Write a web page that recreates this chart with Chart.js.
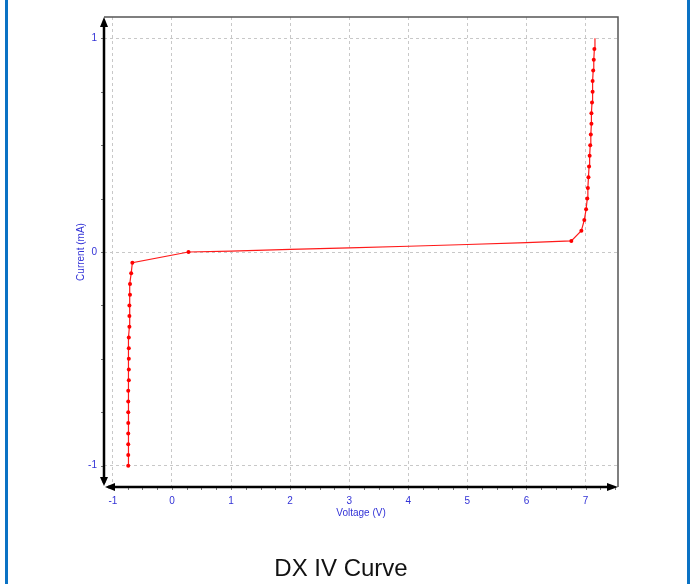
<!DOCTYPE html>
<html>
<head>
<meta charset="utf-8">
<script src="https://cdn.jsdelivr.net/npm/chart.js@4.4.0/dist/chart.umd.min.js"></script>
<style>
  body { margin: 0; background: #fff; }
  #wrap { position: relative; width: 691px; height: 584px; }
  #frame { position: absolute; left: 5px; top: 0; width: 679px; height: 584px;
           border-left: 3px solid #0a72c4; border-right: 3px solid #0a72c4; pointer-events: none; }
</style>
</head>
<body>
<div id="wrap">
  <canvas id="ivChart" width="691" height="584"></canvas>
  <div id="frame"></div>
</div>
<script>
// measured IV points (voltage in V, current in mA)
var voltage = [
  -0.74, -0.74, -0.74, -0.74, -0.74, -0.74, -0.74, -0.74, -0.73, -0.73,
  -0.73, -0.73, -0.73, -0.72, -0.72, -0.72, -0.71, -0.71, -0.69, -0.67,
  0.28, 1.0, 2.0, 3.0, 4.0, 5.0, 6.0, 6.76,
  6.93, 6.98, 7.01, 7.03, 7.04, 7.05, 7.06, 7.07, 7.08, 7.09,
  7.10, 7.10, 7.11, 7.12, 7.12, 7.13, 7.14, 7.15, 7.16
];
var current = [
  -1.00, -0.95, -0.90, -0.85, -0.80, -0.75, -0.70, -0.65, -0.60, -0.55,
  -0.50, -0.45, -0.40, -0.35, -0.30, -0.25, -0.20, -0.15, -0.10, -0.05,
  0.000, 0.004, 0.012, 0.019, 0.027, 0.035, 0.044, 0.052,
  0.10, 0.15, 0.20, 0.25, 0.30, 0.35, 0.40, 0.45, 0.50, 0.55,
  0.60, 0.65, 0.70, 0.75, 0.80, 0.85, 0.90, 0.95, 1.00
];
var xTicks = [-1, 0, 1, 2, 3, 4, 5, 6, 7];
var yTicks = [-1, 0, 1];

var points = voltage.map(function(v, i) { return {x: v, y: current[i]}; });
var noMarker = [21, 22, 23, 24, 25, 26, 46];

var labelBlue = '#3232d6';
var font10 = { family: 'Liberation Sans, Arial, sans-serif', size: 10 };

// axis lines with arrows, frame and minor ticks
var axesPlugin = {
  id: 'axesPlugin',
  beforeDatasetsDraw: function(chart) {
    var c = chart.ctx, a = chart.chartArea;
    var xs = chart.scales.x, ys = chart.scales.y;
    c.save();
    // top/right frame
    c.strokeStyle = '#555';
    c.lineWidth = 1.5;
    c.beginPath();
    c.moveTo(a.left, a.top);
    c.lineTo(a.right, a.top);
    c.lineTo(a.right, a.bottom);
    c.stroke();
    // minor ticks
    c.strokeStyle = '#777';
    c.lineWidth = 1;
    c.beginPath();
    for (var v = -1; v <= 7.5; v += 0.25) {
      var px = Math.round(xs.getPixelForValue(v)) + 0.5;
      c.moveTo(px, a.bottom);
      c.lineTo(px, a.bottom + 3);
    }
    for (var w = -1; w <= 1; w += 0.25) {
      var py = Math.round(ys.getPixelForValue(w)) + 0.5;
      c.moveTo(a.left, py);
      c.lineTo(a.left - 3, py);
    }
    c.stroke();
    // main axes
    c.strokeStyle = '#000';
    c.fillStyle = '#000';
    c.lineWidth = 2.5;
    c.beginPath();
    c.moveTo(a.left, a.top + 6);
    c.lineTo(a.left, a.bottom - 4);
    c.moveTo(a.left + 4, a.bottom);
    c.lineTo(a.right - 6, a.bottom);
    c.stroke();
    function tri(x1, y1, x2, y2, x3, y3) {
      c.beginPath(); c.moveTo(x1, y1); c.lineTo(x2, y2); c.lineTo(x3, y3); c.closePath(); c.fill();
    }
    tri(a.left, a.top, a.left - 4, a.top + 10, a.left + 4, a.top + 10);
    tri(a.left, a.bottom - 1, a.left - 4, a.bottom - 10, a.left + 4, a.bottom - 10);
    tri(a.left + 1, a.bottom, a.left + 11, a.bottom - 4, a.left + 11, a.bottom + 4);
    tri(a.right, a.bottom, a.right - 11, a.bottom - 4, a.right - 11, a.bottom + 4);
    c.restore();
  }
};

new Chart(document.getElementById('ivChart'), {
  type: 'scatter',
  data: {
    datasets: [{
      data: points,
      showLine: true,
      borderColor: '#ff1a1a',
      backgroundColor: '#ff0000',
      borderWidth: 1.2,
      pointStyle: 'circle',
      pointRadius: function(ctx) { return noMarker.indexOf(ctx.dataIndex) >= 0 ? 0 : 2; },
      pointBorderWidth: 0
    }]
  },
  options: {
    responsive: false,
    animation: false,
    layout: { padding: { top: 17, left: 64, right: 73, bottom: 0 } },
    plugins: {
      legend: { display: false },
      tooltip: { enabled: false },
      title: {
        display: true,
        text: 'DX IV Curve',
        position: 'bottom',
        color: '#111',
        font: { family: 'Liberation Sans, Arial, sans-serif', size: 24, weight: 'normal' },
        padding: { top: 12, bottom: 0 }
      }
    },
    scales: {
      x: {
        type: 'linear',
        min: -1.15,
        max: 7.55,
        afterBuildTicks: function(s) { s.ticks = xTicks.map(function(v) { return {value: v}; }); },
        afterFit: function(s) { s.height = 56.2; },
        border: { display: false, dash: [3, 3] },
        grid: { color: '#c8c8c8', lineWidth: 1, drawTicks: false },
        ticks: { color: labelBlue, padding: 8, maxRotation: 0, font: font10 },
        title: { display: true, text: 'Voltage (V)', color: labelBlue, font: font10,
                 padding: { top: 0, bottom: 24 } }
      },
      y: {
        type: 'linear',
        min: -1.1,
        max: 1.1,
        afterBuildTicks: function(s) { s.ticks = yTicks.map(function(v) { return {value: v}; }); },
        afterFit: function(s) { s.width = 40; },
        border: { display: false, dash: [3, 3] },
        grid: { color: '#c8c8c8', lineWidth: 1, drawTicks: false },
        ticks: { color: labelBlue, padding: 7, font: font10 },
        title: { display: true, text: 'Current (mA)', color: labelBlue, font: font10,
                 padding: { top: 11, bottom: 0 } }
      }
    }
  },
  plugins: [axesPlugin]
});
</script>
</body>
</html>
